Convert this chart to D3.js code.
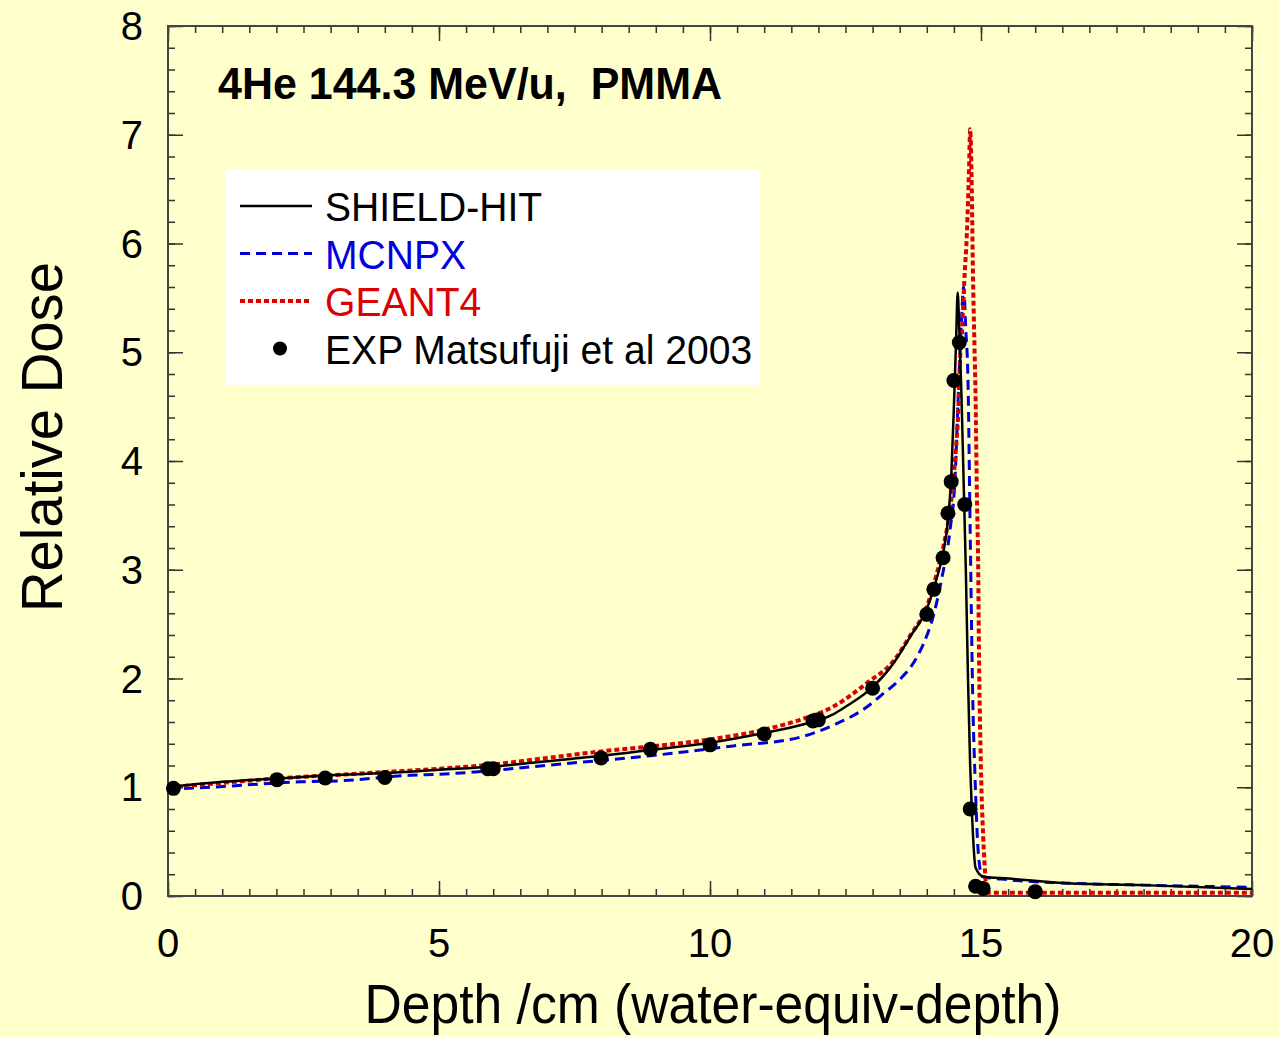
<!DOCTYPE html>
<html lang="en">
  <head>
    <meta charset="UTF-8">
    <title>4He Bragg curve</title>
    <style>
      body { margin: 0; background: #ffffcc; }
      svg { display: block; font-family: "Liberation Sans", Arial, sans-serif; }
    </style>
    <script src="https://d3js.org/d3.v7.min.js"></script>
  </head>
  <body>
    <script>
      var width = 1279, height = 1037;
      var m = { left: 168, right: 1252, top: 26, bottom: 896 };

      // SHIELD-HIT (depth cm, relative dose)
      var shieldDepth = [0, 1, 2, 3, 4, 5, 6, 7, 8, 9, 10, 11, 11.66, 12.27, 12.5, 13, 13.4, 13.7, 14, 14.2, 14.3, 14.4, 14.45, 14.5, 14.54, 14.57,
                         14.6, 14.64, 14.68, 14.72, 14.76, 14.8, 14.83, 14.9, 15.04, 15.5, 16.5, 18, 20];
      var shieldDose = [1.0, 1.05, 1.08, 1.11, 1.13, 1.16, 1.19, 1.24, 1.29, 1.35, 1.41, 1.5, 1.57, 1.67, 1.74, 1.92, 2.15, 2.39, 2.64, 2.95, 3.15, 3.5, 3.85, 4.5, 5.1, 5.55,
                        5.2, 4.6, 3.8, 3.0, 2.0, 1.2, 0.8, 0.26, 0.18, 0.16, 0.12, 0.1, 0.065];

      // MCNPX
      var mcnpxDepth = [0, 0.78, 2.44, 3.2, 4.46, 5, 6.13, 6.74, 8.9, 10.43, 11.66, 12.27, 12.9, 13.17, 13.5, 13.75, 13.93, 14.1, 14.28, 14.43, 14.52, 14.58, 14.64, 14.68,
                        14.72, 14.76, 14.8, 14.85, 14.89, 14.95, 15.02, 15.5, 16.5, 18, 20];
      var mcnpxDose = [0.98, 1.0, 1.05, 1.06, 1.11, 1.12, 1.16, 1.19, 1.29, 1.38, 1.46, 1.57, 1.74, 1.85, 1.99, 2.14, 2.31, 2.54, 2.93, 3.37, 3.83, 4.59, 5.3, 5.6,
                       5.2, 4.74, 3.37, 1.77, 1.09, 0.4, 0.18, 0.15, 0.12, 0.1, 0.08];

      // GEANT4
      var geantDepth = [0, 1, 2, 3, 4, 5, 6, 7, 8, 9, 10, 11, 11.66, 12.27, 12.9, 13.4, 13.7, 14, 14.17, 14.3, 14.4, 14.49, 14.54, 14.58, 14.61, 14.65, 14.69, 14.74, 14.78, 14.8,
                        14.83, 14.85, 14.88, 14.9, 14.92, 14.95, 14.96, 15.0, 15.04, 15.08, 15.1, 20];
      var geantDose = [1.0, 1.04, 1.08, 1.11, 1.14, 1.17, 1.21, 1.27, 1.33, 1.38, 1.44, 1.53, 1.62, 1.74, 1.96, 2.17, 2.4, 2.66, 2.94, 3.2, 3.46, 3.82, 4.13, 4.44, 4.9, 5.18, 5.64, 6.1, 6.7, 7.05,
                       6.5, 5.78, 5.05, 4.59, 3.83, 2.93, 2.38, 1.16, 0.55, 0.18, 0.03, 0.03];

      // EXP Matsufuji et al 2003
      var expDepth = [0.1, 2.01, 2.9, 4.0, 5.9, 6.0, 7.99, 8.9, 10.0, 11.0, 11.9, 12.0, 13.0, 14.0, 14.13, 14.3, 14.39, 14.45, 14.5, 14.6, 14.7, 14.8, 14.9, 15.04, 16.0];
      var expDose = [0.99, 1.07, 1.085, 1.09, 1.17, 1.17, 1.27, 1.35, 1.39, 1.49, 1.61, 1.62, 1.91, 2.59, 2.82, 3.11, 3.52, 3.81, 4.74, 5.09, 3.6, 0.8, 0.09, 0.07, 0.04];

      var xTicks = [0, 5, 10, 15, 20];
      var yTicks = [0, 1, 2, 3, 4, 5, 6, 7, 8];

      var x = d3.scaleLinear().domain([0, 20]).range([m.left, m.right]);
      var y = d3.scaleLinear().domain([0, 8]).range([m.bottom, m.top]);

      var svg = d3.select("body").append("svg")
        .attr("width", width).attr("height", height);

      svg.append("rect").attr("width", width).attr("height", height).attr("fill", "#ffffcc");

      // the original font is a bit narrower than Liberation Sans
      function squeeze(sel, f) {
        sel.each(function () {
          var w = this.getComputedTextLength();
          d3.select(this).attr("textLength", w * f).attr("lengthAdjust", "spacingAndGlyphs");
        });
      }

      // ticks (inward), minor and major, all four sides
      var xMinor = d3.range(0, 20.01, 0.5), yMinor = d3.range(0, 8.01, 0.2);
      function tickAxis(axisFn, scale, vals, size, tr) {
        svg.append("g").attr("transform", tr)
          .call(axisFn(scale).tickValues(vals).tickSize(size).tickFormat(""))
          .call(function (g) { g.select(".domain").remove(); })
          .selectAll("line").attr("stroke", "#333").attr("stroke-width", 1.5);
      }
      tickAxis(d3.axisBottom, x, xMinor, -7, "translate(0," + m.bottom + ")");
      tickAxis(d3.axisBottom, x, xTicks, -15, "translate(0," + m.bottom + ")");
      tickAxis(d3.axisTop, x, xMinor, -7, "translate(0," + m.top + ")");
      tickAxis(d3.axisTop, x, xTicks, -15, "translate(0," + m.top + ")");
      tickAxis(d3.axisLeft, y, yMinor, -7, "translate(" + m.left + ",0)");
      tickAxis(d3.axisLeft, y, yTicks, -15, "translate(" + m.left + ",0)");
      tickAxis(d3.axisRight, y, yMinor, -7, "translate(" + m.right + ",0)");
      tickAxis(d3.axisRight, y, yTicks, -15, "translate(" + m.right + ",0)");

      svg.append("rect")
        .attr("x", m.left).attr("y", m.top)
        .attr("width", m.right - m.left).attr("height", m.bottom - m.top)
        .attr("fill", "none").attr("stroke", "#444").attr("stroke-width", 2);

      // tick labels
      svg.append("g").selectAll("text").data(xTicks).enter().append("text")
        .attr("x", function (d) { return x(d); }).attr("y", m.bottom + 61)
        .attr("text-anchor", "middle").attr("font-size", 40).text(function (d) { return d; });
      svg.append("g").selectAll("text").data(yTicks).enter().append("text")
        .attr("x", m.left - 25).attr("y", function (d) { return y(d) + 14; })
        .attr("text-anchor", "end").attr("font-size", 40).text(function (d) { return d; });

      // axis titles
      svg.append("text").attr("x", 713).attr("y", 1023)
        .attr("text-anchor", "middle").attr("font-size", 55)
        .attr("textLength", 697).attr("lengthAdjust", "spacingAndGlyphs")
        .text("Depth /cm (water-equiv-depth)");
      svg.append("text").attr("transform", "translate(62,437) rotate(-90)")
        .attr("text-anchor", "middle").attr("font-size", 57)
        .attr("textLength", 350).attr("lengthAdjust", "spacingAndGlyphs")
        .text("Relative Dose");

      svg.append("text").attr("x", 218).attr("y", 99)
        .attr("font-size", 44).attr("font-weight", "bold")
        .attr("textLength", 504).attr("lengthAdjust", "spacingAndGlyphs")
        .style("white-space", "pre").attr("xml:space", "preserve")
        .text("4He 144.3 MeV/u,  PMMA");

      // curves
      var line = d3.line().curve(d3.curveMonotoneX)
        .x(function (d) { return x(d[0]); }).y(function (d) { return y(d[1]); });
      var plot = svg.append("g");
      plot.append("path").datum(d3.zip(mcnpxDepth, mcnpxDose)).attr("d", line)
        .attr("fill", "none").attr("stroke", "#0000dd").attr("stroke-width", 3).attr("stroke-dasharray", "10,6");
      plot.append("path").datum(d3.zip(geantDepth, geantDose)).attr("d", line)
        .attr("fill", "none").attr("stroke", "#dd0000").attr("stroke-width", 4).attr("stroke-dasharray", "5,3");
      plot.append("path").datum(d3.zip(shieldDepth, shieldDose)).attr("d", line)
        .attr("fill", "none").attr("stroke", "#000").attr("stroke-width", 2.5);

      plot.selectAll("circle").data(d3.zip(expDepth, expDose)).enter().append("circle")
        .attr("cx", function (d) { return x(d[0]); }).attr("cy", function (d) { return y(d[1]); })
        .attr("r", 7.5).attr("fill", "#000");

      // legend
      var lg = svg.append("g");
      lg.append("rect").attr("x", 225).attr("y", 170).attr("width", 535).attr("height", 215).attr("fill", "#fff");
      var items = [
        { name: "SHIELD-HIT", color: "#000", text: "#000", dash: null, w: 2.5 },
        { name: "MCNPX", color: "#0000dd", text: "#0000dd", dash: "10,6", w: 3 },
        { name: "GEANT4", color: "#dd0000", text: "#dd0000", dash: "5,3", w: 4 },
        { name: "EXP Matsufuji et al 2003", color: "#000", text: "#000", dash: null, w: 0 }
      ];
      items.forEach(function (it, i) {
        var cy = 206 + i * 47.5;
        if (i < 3) {
          lg.append("line").attr("x1", 240).attr("x2", 312).attr("y1", cy).attr("y2", cy)
            .attr("stroke", it.color).attr("stroke-width", it.w).attr("stroke-dasharray", it.dash);
        } else {
          lg.append("circle").attr("cx", 280).attr("cy", cy).attr("r", 7).attr("fill", "#000");
        }
        lg.append("text").attr("x", 325).attr("y", cy + 15).attr("font-size", 40)
          .attr("fill", it.text).text(it.name).call(squeeze, 0.977);
      });
    </script>
  </body>
</html>
